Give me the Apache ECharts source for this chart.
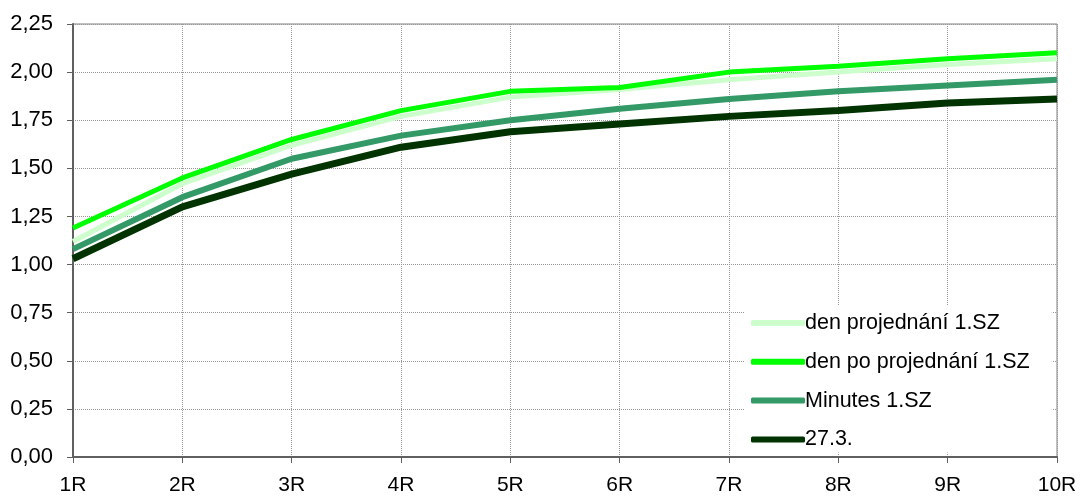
<!DOCTYPE html>
<html><head><meta charset="utf-8">
<script src="https://cdn.jsdelivr.net/npm/echarts@6/dist/echarts.min.js"></script>
<style>html,body{margin:0;padding:0;background:#fff}#c{width:1082px;height:496px}</style>
</head><body><div id="c"></div>
<script>
const categories = ['1R','2R','3R','4R','5R','6R','7R','8R','9R','10R'];
const denProjednani = [1.12,1.42,1.62,1.77,1.87,1.91,1.96,2.00,2.04,2.07];
const denPoProjednani = [1.19,1.45,1.65,1.80,1.90,1.92,2.00,2.03,2.07,2.10];
const minutes = [1.08,1.35,1.55,1.67,1.75,1.81,1.86,1.90,1.93,1.96];
const d273 = [1.03,1.30,1.47,1.61,1.69,1.73,1.77,1.80,1.84,1.86];
const seriesNames = ['den projednání 1.SZ','den po projednání 1.SZ','Minutes 1.SZ','27.3.'];
const colors = ['#CCFFCC','#00FF00','#339966','#003300'];
const widths = [5,5,6,7];
const data = [denProjednani, denPoProjednani, minutes, d273];

const chart = echarts.init(document.getElementById('c'));
chart.setOption({
  animation:false,
  textStyle:{fontFamily:'Liberation Sans, Arial, sans-serif'},
  grid:{left:73,top:24,right:25,bottom:39,show:true,borderColor:'#808080',borderWidth:1},
  legend:{
    orient:'vertical', left:745, top:306,
    backgroundColor:'#fff', padding:[6,22,2,6],
    itemWidth:54, itemHeight:6, itemGap:16.8,
    icon:'roundRect',
    textStyle:{fontSize:21.5,color:'#000',padding:[0,0,0,-5]},
    data:seriesNames
  },
  xAxis:{
    type:'category', data:categories, boundaryGap:false,
    axisLine:{lineStyle:{color:'#606060',width:2}},
    axisTick:{show:true,length:6,lineStyle:{color:'#606060'}},
    axisLabel:{fontSize:21,color:'#000',margin:18},
    splitLine:{show:true,lineStyle:{color:'#999',type:'dotted',width:1}}
  },
  yAxis:{
    type:'value', min:0, max:2.25, interval:0.25,
    axisLine:{show:true,lineStyle:{color:'#606060',width:2}},
    axisTick:{show:true,length:6,lineStyle:{color:'#606060'}},
    axisLabel:{fontSize:22,color:'#000',margin:20,formatter:v=>v.toFixed(2).replace('.',',')},
    splitLine:{show:true,lineStyle:{color:'#999',type:'dotted',width:1}}
  },
  series: seriesNames.map((n,i)=>({
    name:n, type:'line', data:data[i], symbol:'none',
    lineStyle:{color:colors[i],width:widths[i]}, itemStyle:{color:colors[i]}
  }))
});
</script></body></html>
